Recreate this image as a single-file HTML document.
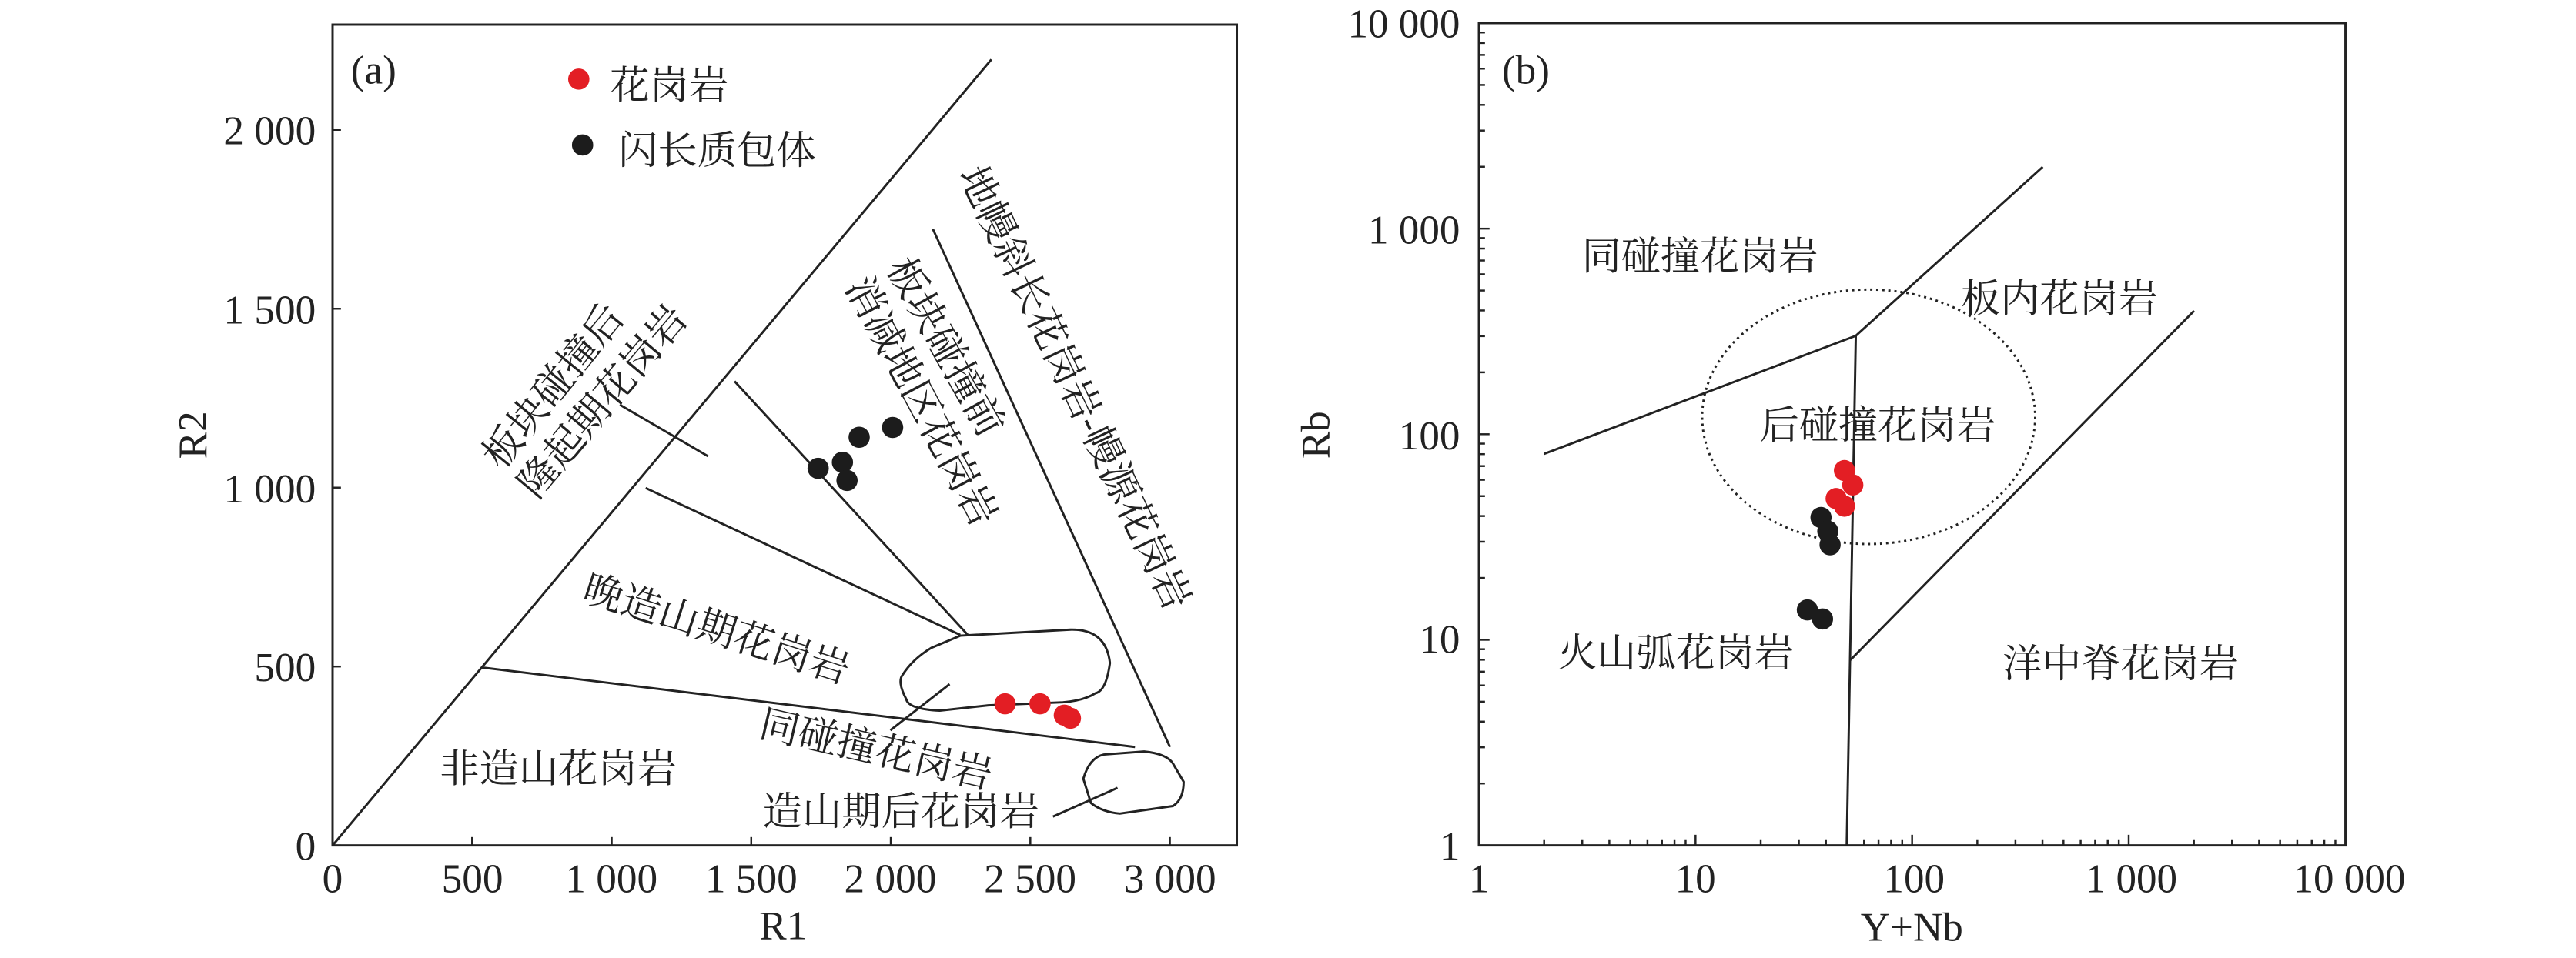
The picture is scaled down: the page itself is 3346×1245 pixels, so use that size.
<!DOCTYPE html>
<html><head><meta charset="utf-8"><style>
html,body{margin:0;padding:0;background:#fff;}
svg{display:block;}
.n{font-family:"Liberation Serif",serif;font-size:54px;fill:#222;}
.c{font-family:"Liberation Serif","Noto Serif CJK SC",serif;font-size:52px;fill:#222;}
</style></head><body>
<svg id="s" width="3346" height="1245" viewBox="0 0 3346 1245" xmlns="http://www.w3.org/2000/svg">
<!-- panel a -->
<g transform="translate(432,32) scale(0.987,0.984) translate(-432,-32)">
<g fill="none" stroke="#222" stroke-width="3">
<rect x="432" y="32" width="1190" height="1084"/>
<line x1="432" y1="1116" x2="1299" y2="78"/>
<line x1="629" y1="881" x2="1488" y2="986"/>
<line x1="1222" y1="302" x2="1534" y2="986"/>
<line x1="961" y1="503" x2="1268" y2="838"/>
<line x1="844" y1="644" x2="1258" y2="838"/>
<line x1="810" y1="534" x2="926" y2="602"/>
<line x1="1166" y1="964" x2="1244" y2="903"/>
<line x1="1380" y1="1078" x2="1465" y2="1040"/>
<path stroke-linejoin="round" d="M1258,839 L1403,831 Q1450,830 1455,875 Q1450,912 1436,915 Q1420,925 1393,927 L1295,931 L1231,938 Q1190,936 1187,923 Q1175,900 1182,891 Q1195,870 1220,855 Z"/>
<path stroke-linejoin="round" d="M1447,996 L1500,992 Q1530,995 1538,1008 L1552,1032 Q1552,1055 1538,1064 L1468,1074 Q1445,1072 1430,1060 L1420,1028 Q1428,1000 1447,996 Z"/>
</g>
<g id="ticksA" stroke="#222" stroke-width="2.5"></g>
<g fill="#e31e24">
<circle cx="1317" cy="929" r="14"/><circle cx="1363" cy="929" r="14"/><circle cx="1395" cy="944" r="14"/><circle cx="1403" cy="948" r="14"/>
<circle cx="756" cy="104" r="14"/>
</g>
<g fill="#1c1c1c">
<circle cx="1071" cy="618" r="14"/><circle cx="1103" cy="610" r="14"/><circle cx="1109" cy="634" r="14"/><circle cx="1125" cy="577" r="14"/><circle cx="1169" cy="564" r="14"/>
<circle cx="761" cy="191" r="14"/>
</g>
<text class="n" x="486" y="110" text-anchor="middle">(a)</text>
<text class="c" x="797" y="130">花岗岩</text>
<text class="c" x="808" y="216">闪长质包体</text>
<g class="n" text-anchor="end">
<text x="410" y="190">2 000</text><text x="410" y="427">1 500</text><text x="410" y="663">1 000</text><text x="410" y="899">500</text><text x="410" y="1135">0</text>
</g>
<g class="n" text-anchor="middle">
<text x="432" y="1178">0</text><text x="616" y="1178">500</text><text x="799" y="1178">1 000</text><text x="983" y="1178">1 500</text><text x="1166" y="1178">2 000</text><text x="1350" y="1178">2 500</text><text x="1534" y="1178">3 000</text>
<text x="1025" y="1240">R1</text>
<text transform="translate(266,574) rotate(-90)">R2</text>
</g>
<g class="c" text-anchor="middle" dominant-baseline="central">
<text transform="translate(1408,512) rotate(64.6)">地幔斜长花岗岩-幔源花岗岩</text>
<text transform="translate(1238,458) rotate(61)">板块碰撞前</text>
<text transform="translate(1206,530) rotate(62)">消减地区花岗岩</text>
<text transform="translate(723,510) rotate(-51)">板块碰撞后</text>
<text transform="translate(788,530) rotate(-50)">隆起期花岗岩</text>
<text transform="translate(937,831) rotate(17.8)">晚造山期花岗岩</text>
<text transform="translate(1147,990) rotate(13)">同碰撞花岗岩</text>
<text x="729" y="1016">非造山花岗岩</text>
<text x="1180" y="1072">造山期后花岗岩</text>
</g>
</g>
<!-- panel b -->
<g transform="translate(1921,30) scale(0.983,0.984) translate(-1921,-30)">
<g fill="none" stroke="#222" stroke-width="3">
<rect x="1921" y="30" width="1145" height="1086"/>
<polyline points="2007,599 2419,443 2666,220"/>
<line x1="2419" y1="443" x2="2407" y2="1116"/>
<line x1="2412" y1="871" x2="2866" y2="410"/>
<ellipse cx="2436" cy="550" rx="220" ry="168" stroke-dasharray="3,5" stroke-width="3"/>
</g>
<g id="ticksB" stroke="#222" stroke-width="2.5"></g>
<g fill="#e31e24">
<circle cx="2404" cy="621" r="14"/><circle cx="2415" cy="640" r="14"/><circle cx="2393" cy="658" r="14"/><circle cx="2404" cy="668" r="14"/>
</g>
<g fill="#1c1c1c">
<circle cx="2373" cy="683" r="14"/><circle cx="2382" cy="701" r="14"/><circle cx="2385" cy="719" r="14"/><circle cx="2355" cy="805" r="14"/><circle cx="2375" cy="817" r="14"/>
</g>
<g class="c" text-anchor="middle" dominant-baseline="central">
<text x="2213" y="339">同碰撞花岗岩</text>
<text x="2688" y="395">板内花岗岩</text>
<text x="2448" y="562">后碰撞花岗岩</text>
<text x="2181" y="863">火山弧花岗岩</text>
<text x="2769" y="877">洋中脊花岗岩</text>
</g>
<text class="n" x="1983" y="110" text-anchor="middle">(b)</text>
<g class="n" text-anchor="end">
<text x="1896" y="49">10 000</text><text x="1896" y="321">1 000</text><text x="1896" y="593">100</text><text x="1896" y="862">10</text><text x="1896" y="1135">1</text>
</g>
<g class="n" text-anchor="middle">
<text x="1921" y="1178">1</text><text x="2207" y="1178">10</text><text x="2496" y="1178">100</text><text x="2783" y="1178">1 000</text><text x="3071" y="1178">10 000</text>
<text x="2493" y="1242">Y+Nb</text>
<text transform="translate(1723,574) rotate(-90)">Rb</text>
</g>
</g>
</svg>
<script>
var h='';
function L(a,b,c,d){h+='<line x1="'+a+'" y1="'+b+'" x2="'+c+'" y2="'+d+'"/>';}
for(var i=0;i<=3000;i+=500){var x=432+i*0.3673;L(x,1116,x,1105);}
for(var j=0;j<=2000;j+=500){var y=1116-j*0.4725;L(432,y,443,y);}
document.getElementById('ticksA').innerHTML=h;
h='';
for(var d=0;d<4;d++){for(var k=1;k<10;k++){var t=d+Math.log10(k);var x=1921+t*286.2;var y=1116-t*271.5;var len=k==1?14:8;L(x,1116,x,1116-len);L(1921,y,1921+len,y);}}
document.getElementById('ticksB').innerHTML=h;
</script>
</body></html>
